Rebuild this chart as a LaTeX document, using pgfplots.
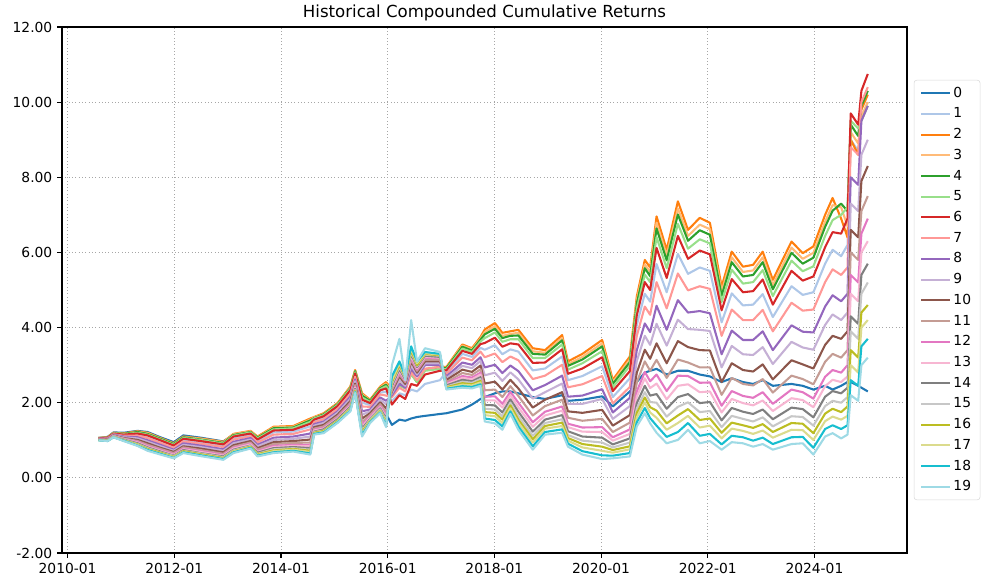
\documentclass[border=0pt]{standalone}
\usepackage{fontspec}
\setmainfont{DejaVu Sans}
\usepackage{pgfplots}
\usepackage{pgfplotstable}
\pgfplotsset{compat=1.18}

% tab20 colours
\definecolor{tab0}{RGB}{31,119,180}
\definecolor{tab1}{RGB}{174,199,232}
\definecolor{tab2}{RGB}{255,127,14}
\definecolor{tab3}{RGB}{255,187,120}
\definecolor{tab4}{RGB}{44,160,44}
\definecolor{tab5}{RGB}{152,223,138}
\definecolor{tab6}{RGB}{214,39,40}
\definecolor{tab7}{RGB}{255,152,150}
\definecolor{tab8}{RGB}{148,103,189}
\definecolor{tab9}{RGB}{197,176,213}
\definecolor{tab10}{RGB}{140,86,75}
\definecolor{tab11}{RGB}{196,156,148}
\definecolor{tab12}{RGB}{227,119,194}
\definecolor{tab13}{RGB}{247,182,210}
\definecolor{tab14}{RGB}{127,127,127}
\definecolor{tab15}{RGB}{199,199,199}
\definecolor{tab16}{RGB}{188,189,34}
\definecolor{tab17}{RGB}{219,219,141}
\definecolor{tab18}{RGB}{23,190,207}
\definecolor{tab19}{RGB}{158,218,229}

\pgfplotstableread{
t s0 s1 s2 s3 s4 s5 s6 s7 s8 s9 s10 s11 s12 s13 s14 s15 s16 s17 s18 s19
2010.58 1.06 1.05 1.06 1.06 1.06 1.05 1.05 1.04 1.04 1.03 1.02 1.02 1.02 1.01 1.01 1.01 1.01 1.00 1.00 1.00
2010.75 1.09 1.06 1.08 1.08 1.07 1.07 1.07 1.05 1.04 1.03 1.02 1.01 1.01 1.00 1.00 0.99 0.99 0.99 0.98 0.98
2010.86 1.21 1.17 1.20 1.20 1.19 1.19 1.18 1.16 1.15 1.14 1.13 1.12 1.11 1.11 1.10 1.10 1.09 1.09 1.08 1.08
2011.05 1.20 1.14 1.18 1.17 1.17 1.16 1.15 1.12 1.10 1.08 1.06 1.05 1.03 1.03 1.02 1.01 1.00 0.99 0.99 0.98
2011.31 1.25 1.15 1.24 1.23 1.22 1.20 1.18 1.12 1.08 1.05 1.01 0.98 0.96 0.94 0.92 0.90 0.89 0.88 0.86 0.85
2011.50 1.22 1.09 1.20 1.19 1.17 1.15 1.13 1.06 1.00 0.96 0.92 0.88 0.85 0.83 0.81 0.79 0.77 0.75 0.74 0.72
2011.74 1.08 0.96 1.06 1.05 1.04 1.02 1.00 0.93 0.88 0.84 0.80 0.77 0.74 0.72 0.70 0.68 0.67 0.65 0.64 0.62
2011.99 0.95 0.83 0.92 0.91 0.90 0.88 0.86 0.80 0.75 0.72 0.69 0.66 0.63 0.61 0.59 0.58 0.56 0.55 0.53 0.52
2012.17 1.13 1.00 1.10 1.09 1.08 1.06 1.04 0.97 0.92 0.88 0.84 0.81 0.78 0.76 0.74 0.72 0.71 0.69 0.68 0.66
2012.49 1.07 0.95 1.05 1.04 1.02 1.01 0.98 0.91 0.86 0.82 0.78 0.74 0.71 0.69 0.66 0.65 0.63 0.61 0.60 0.58
2012.92 0.97 0.85 0.96 0.95 0.93 0.91 0.89 0.82 0.76 0.72 0.68 0.64 0.61 0.59 0.57 0.55 0.53 0.51 0.50 0.48
2013.11 1.15 1.06 1.17 1.16 1.14 1.12 1.10 1.02 0.96 0.92 0.87 0.83 0.80 0.78 0.75 0.73 0.71 0.70 0.68 0.66
2013.43 1.22 1.15 1.25 1.24 1.22 1.21 1.18 1.11 1.06 1.02 0.98 0.94 0.91 0.89 0.86 0.85 0.83 0.81 0.80 0.78
2013.56 1.07 0.98 1.10 1.08 1.07 1.05 1.02 0.94 0.88 0.84 0.79 0.75 0.71 0.69 0.67 0.64 0.63 0.61 0.59 0.57
2013.86 1.30 1.21 1.36 1.34 1.32 1.29 1.26 1.15 1.07 1.01 0.95 0.90 0.85 0.82 0.79 0.76 0.73 0.71 0.68 0.66
2014.23 1.32 1.23 1.38 1.36 1.34 1.32 1.28 1.17 1.10 1.04 0.98 0.93 0.88 0.85 0.82 0.79 0.77 0.75 0.72 0.70
2014.55 1.50 1.37 1.58 1.55 1.53 1.49 1.44 1.29 1.18 1.10 1.02 0.94 0.88 0.84 0.79 0.75 0.72 0.69 0.65 0.62
2014.62 1.57 1.52 1.62 1.61 1.59 1.58 1.55 1.48 1.43 1.39 1.35 1.31 1.28 1.26 1.23 1.22 1.20 1.18 1.17 1.15
2014.80 1.66 1.60 1.72 1.70 1.69 1.67 1.64 1.56 1.50 1.46 1.41 1.37 1.33 1.31 1.29 1.26 1.25 1.23 1.21 1.19
2015.06 1.93 1.87 1.99 1.97 1.96 1.94 1.91 1.83 1.77 1.73 1.68 1.64 1.60 1.58 1.56 1.53 1.52 1.50 1.48 1.46
2015.30 2.38 2.29 2.43 2.41 2.39 2.37 2.33 2.23 2.16 2.10 2.04 1.99 1.95 1.92 1.89 1.86 1.84 1.82 1.79 1.77
2015.39 2.80 2.74 2.87 2.85 2.84 2.81 2.78 2.69 2.62 2.57 2.51 2.47 2.42 2.40 2.37 2.34 2.32 2.30 2.28 2.26
2015.52 2.20 2.00 2.25 2.22 2.19 2.14 2.08 1.90 1.77 1.68 1.58 1.49 1.41 1.36 1.31 1.26 1.22 1.18 1.14 1.10
2015.67 2.02 1.94 2.08 2.06 2.05 2.02 1.99 1.89 1.82 1.77 1.72 1.67 1.63 1.60 1.57 1.55 1.52 1.50 1.48 1.46
2015.86 1.75 2.27 2.43 2.41 2.39 2.36 2.33 2.22 2.14 2.08 2.01 1.96 1.91 1.88 1.85 1.82 1.79 1.77 1.74 1.72
2015.97 1.70 2.29 2.55 2.51 2.48 2.44 2.38 2.19 2.05 1.96 1.85 1.75 1.67 1.62 1.57 1.52 1.47 1.43 1.39 1.35
2016.08 1.41 2.05 2.35 2.30 2.25 2.20 1.95 2.15 2.20 2.25 2.30 2.35 2.40 2.42 2.45 2.50 2.55 2.60 2.70 3.00
2016.22 1.55 2.25 2.60 2.55 2.50 2.45 2.20 2.40 2.50 2.60 2.70 2.75 2.80 2.85 2.90 2.95 3.00 3.05 3.10 3.70
2016.33 1.52 2.20 2.45 2.42 2.40 2.38 2.10 2.30 2.40 2.45 2.50 2.55 2.58 2.60 2.62 2.65 2.68 2.70 2.72 2.60
2016.44 1.58 2.35 2.82 2.80 2.78 2.75 2.50 2.80 2.90 3.00 3.10 3.15 3.20 3.25 3.30 3.35 3.40 3.45 3.50 4.20
2016.55 1.62 2.30 2.55 2.55 2.55 2.55 2.45 2.60 2.70 2.75 2.80 2.85 2.88 2.92 2.95 2.98 3.00 3.05 3.10 3.10
2016.70 1.65 2.50 2.90 2.88 2.87 2.85 2.75 2.90 3.00 3.05 3.10 3.15 3.20 3.22 3.25 3.28 3.30 3.32 3.35 3.45
2016.98 1.70 2.60 2.95 2.93 2.92 2.90 2.85 2.95 3.00 3.05 3.10 3.15 3.18 3.20 3.22 3.25 3.26 3.28 3.30 3.35
2017.10 1.72 2.82 2.95 2.93 2.92 2.89 2.86 2.77 2.70 2.65 2.60 2.55 2.51 2.49 2.46 2.43 2.41 2.39 2.37 2.35
2017.40 1.82 3.30 3.55 3.52 3.49 3.44 3.38 3.20 3.07 2.98 2.88 2.79 2.71 2.66 2.61 2.56 2.52 2.48 2.44 2.40
2017.58 1.95 3.22 3.45 3.42 3.39 3.35 3.30 3.13 3.01 2.92 2.82 2.74 2.67 2.62 2.57 2.53 2.49 2.46 2.42 2.38
2017.74 2.10 3.46 3.75 3.71 3.68 3.63 3.56 3.36 3.21 3.11 2.99 2.89 2.80 2.75 2.68 2.63 2.58 2.54 2.49 2.45
2017.82 2.15 3.41 3.95 3.88 3.82 3.72 3.59 3.21 2.94 2.73 2.51 2.33 2.16 2.06 1.94 1.84 1.75 1.67 1.58 1.50
2018.01 2.25 3.53 4.12 4.04 3.97 3.87 3.73 3.31 3.01 2.80 2.56 2.35 2.17 2.06 1.93 1.82 1.73 1.64 1.54 1.45
2018.15 2.30 3.29 3.86 3.78 3.72 3.62 3.49 3.08 2.79 2.58 2.35 2.15 1.97 1.87 1.74 1.64 1.55 1.46 1.37 1.28
2018.30 2.30 3.42 3.90 3.83 3.78 3.69 3.58 3.23 2.99 2.81 2.61 2.44 2.29 2.20 2.09 2.00 1.93 1.85 1.77 1.70
2018.45 2.25 3.36 3.94 3.86 3.79 3.69 3.55 3.13 2.84 2.62 2.38 2.18 2.00 1.88 1.76 1.65 1.55 1.47 1.37 1.28
2018.72 2.15 2.86 3.45 3.37 3.30 3.19 3.06 2.63 2.33 2.11 1.87 1.66 1.48 1.36 1.23 1.12 1.03 0.94 0.84 0.75
2018.95 2.10 2.91 3.40 3.33 3.28 3.19 3.07 2.72 2.47 2.28 2.08 1.91 1.76 1.66 1.55 1.46 1.38 1.31 1.22 1.15
2019.27 2.20 3.23 3.80 3.72 3.66 3.55 3.42 3.01 2.72 2.51 2.28 2.08 1.90 1.79 1.67 1.56 1.47 1.38 1.29 1.20
2019.38 2.05 2.60 3.10 3.03 2.98 2.88 2.77 2.41 2.16 1.97 1.77 1.60 1.44 1.35 1.24 1.14 1.06 0.99 0.91 0.83
2019.65 2.08 2.71 3.30 3.22 3.15 3.05 2.91 2.49 2.19 1.97 1.73 1.52 1.34 1.23 1.10 0.99 0.90 0.81 0.71 0.62
2020.02 2.17 2.97 3.67 3.58 3.50 3.37 3.21 2.71 2.36 2.10 1.81 1.57 1.35 1.22 1.07 0.94 0.83 0.72 0.60 0.50
2020.22 1.90 2.15 2.61 2.55 2.50 2.41 2.31 1.98 1.74 1.57 1.39 1.22 1.08 0.99 0.89 0.81 0.74 0.67 0.59 0.52
2020.54 2.30 2.65 3.23 3.15 3.08 2.98 2.84 2.42 2.13 1.91 1.67 1.47 1.29 1.17 1.05 0.94 0.84 0.76 0.66 0.57
2020.67 2.55 4.07 4.83 4.73 4.64 4.50 4.33 3.78 3.40 3.11 2.80 2.54 2.30 2.16 1.99 1.85 1.73 1.61 1.48 1.37
2020.82 2.80 4.90 5.80 5.68 5.58 5.41 5.21 4.56 4.11 3.78 3.41 3.10 2.82 2.65 2.45 2.28 2.14 2.01 1.86 1.72
2020.92 2.85 4.69 5.60 5.48 5.37 5.21 5.00 4.34 3.88 3.54 3.17 2.85 2.57 2.39 2.19 2.02 1.88 1.74 1.59 1.45
2021.04 2.90 5.69 6.96 6.79 6.64 6.41 6.12 5.21 4.58 4.10 3.58 3.14 2.75 2.51 2.23 2.00 1.79 1.60 1.39 1.20
2021.23 2.75 4.94 6.07 5.92 5.79 5.58 5.32 4.51 3.94 3.52 3.05 2.66 2.31 2.09 1.84 1.63 1.45 1.28 1.09 0.92
2021.44 2.85 5.96 7.36 7.17 7.01 6.76 6.44 5.44 4.73 4.21 3.64 3.15 2.72 2.45 2.15 1.89 1.66 1.46 1.22 1.01
2021.63 2.85 5.43 6.60 6.44 6.31 6.10 5.83 4.99 4.40 3.96 3.48 3.07 2.71 2.49 2.23 2.01 1.83 1.65 1.46 1.28
2021.85 2.75 5.60 6.92 6.74 6.59 6.35 6.05 5.10 4.44 3.94 3.40 2.94 2.53 2.28 1.99 1.75 1.54 1.34 1.12 0.92
2022.04 2.70 5.51 6.79 6.62 6.47 6.24 5.95 5.03 4.38 3.91 3.39 2.94 2.54 2.30 2.02 1.78 1.58 1.39 1.17 0.98
2022.26 2.55 4.14 5.09 4.96 4.85 4.68 4.46 3.78 3.29 2.94 2.55 2.21 1.92 1.74 1.53 1.35 1.20 1.05 0.89 0.75
2022.45 2.65 4.91 6.02 5.87 5.74 5.54 5.29 4.48 3.92 3.51 3.05 2.66 2.31 2.10 1.86 1.65 1.47 1.31 1.12 0.95
2022.66 2.55 4.59 5.62 5.48 5.36 5.17 4.94 4.20 3.67 3.29 2.87 2.50 2.18 1.99 1.76 1.57 1.40 1.25 1.08 0.92
2022.85 2.50 4.61 5.67 5.52 5.40 5.21 4.97 4.20 3.67 3.27 2.83 2.46 2.13 1.93 1.70 1.50 1.33 1.17 0.99 0.83
2023.03 2.60 4.89 6.02 5.87 5.74 5.53 5.28 4.47 3.90 3.48 3.02 2.63 2.28 2.06 1.82 1.61 1.43 1.26 1.07 0.90
2023.22 2.45 4.28 5.27 5.13 5.02 4.84 4.61 3.90 3.40 3.03 2.62 2.27 1.97 1.78 1.56 1.37 1.22 1.07 0.90 0.75
2023.57 2.50 5.10 6.29 6.13 5.99 5.78 5.51 4.66 4.06 3.62 3.13 2.72 2.35 2.12 1.87 1.64 1.46 1.28 1.08 0.90
2023.78 2.45 4.87 5.98 5.83 5.70 5.50 5.25 4.45 3.89 3.47 3.02 2.63 2.28 2.07 1.83 1.62 1.44 1.27 1.09 0.92
2023.98 2.35 4.94 6.16 5.99 5.86 5.63 5.36 4.48 3.87 3.41 2.91 2.49 2.11 1.88 1.61 1.39 1.19 1.01 0.80 0.62
2024.20 2.45 5.70 7.00 6.82 6.68 6.44 6.14 5.21 4.56 4.07 3.54 3.09 2.69 2.44 2.16 1.91 1.71 1.51 1.30 1.10
2024.34 2.35 6.07 7.45 7.26 7.11 6.86 6.54 5.55 4.86 4.35 3.78 3.30 2.87 2.61 2.31 2.05 1.84 1.63 1.40 1.19
2024.50 2.45 5.90 6.90 7.20 7.30 7.00 6.50 5.40 4.70 4.20 3.70 3.20 2.80 2.55 2.25 2.00 1.75 1.55 1.30 1.05
2024.62 2.55 6.20 6.40 6.70 7.10 7.20 6.90 5.60 4.90 4.40 3.90 3.40 3.00 2.70 2.40 2.15 1.90 1.65 1.40 1.15
2024.68 2.55 9.00 9.00 9.20 9.40 9.50 9.70 8.80 8.00 7.30 6.60 6.00 5.40 4.90 4.30 3.90 3.40 3.00 2.60 2.20
2024.82 2.45 8.70 8.60 8.90 9.10 9.30 9.40 8.60 7.80 7.10 6.40 5.80 5.20 4.70 4.10 3.70 3.20 2.80 2.45 2.05
2024.88 2.40 9.60 9.80 9.60 9.90 9.50 10.30 10.00 9.50 8.60 7.90 7.10 6.50 6.00 5.40 4.90 4.40 4.00 3.50 3.00
2025.00 2.30 10.00 10.20 10.00 10.30 9.90 10.75 10.40 9.90 9.00 8.30 7.50 6.90 6.30 5.70 5.20 4.60 4.20 3.70 3.20
}\data

\begin{document}
\begin{tikzpicture}
\begin{axis}[
    scale only axis,
    width=8.45in, height=5.26in,
    xmin=2009.895, xmax=2025.735,
    ymin=-2, ymax=12,
    xtick={2010,2012,2014,2016,2018,2020,2022,2024},
    xticklabels={2010-01,2012-01,2014-01,2016-01,2018-01,2020-01,2022-01,2024-01},
    ytick={-2,0,2,4,6,8,10,12},
    yticklabel={\pgfmathprintnumber[fixed,fixed zerofill,precision=2]{\tick}},
    /pgf/number format/assume math mode=true,
    ticklabel style={font=\fontsize{10}{12}\selectfont},
    tick align=outside, tick pos=left,
    major tick length=3.5pt,
    axis line style={line width=0.8pt},
    every tick/.style={black, line width=0.8pt},
    grid=major,
    grid style={dotted, gray!70, line width=0.6pt},
    title={Historical Compounded Cumulative Returns},
    title style={font=\fontsize{12}{14}\selectfont, yshift=-5pt},
    legend style={at={(1.008,0.5)}, anchor=west, draw=gray!30,
        rounded corners=2pt, font=\fontsize{10}{12}\selectfont,
        row sep=2.1pt, inner xsep=4.5pt, inner ysep=3pt},
    legend cell align=left,
    legend image code/.code={\draw[#1, line width=1.5pt] (0cm,0cm) -- (0.72cm,0cm);},
    every axis plot/.append style={line width=1.5pt, line join=round},
]
\pgfplotsinvokeforeach{0,...,19}{
    \addplot[color=tab#1, no markers] table[x=t, y=s#1]{\data};
    \addlegendentry{#1}
}
\end{axis}
\path ([xshift=-0.62in, yshift=-0.29in]current axis.south west)
    rectangle ([xshift=0.86in, yshift=0.27in]current axis.north east);
\end{tikzpicture}
\end{document}
